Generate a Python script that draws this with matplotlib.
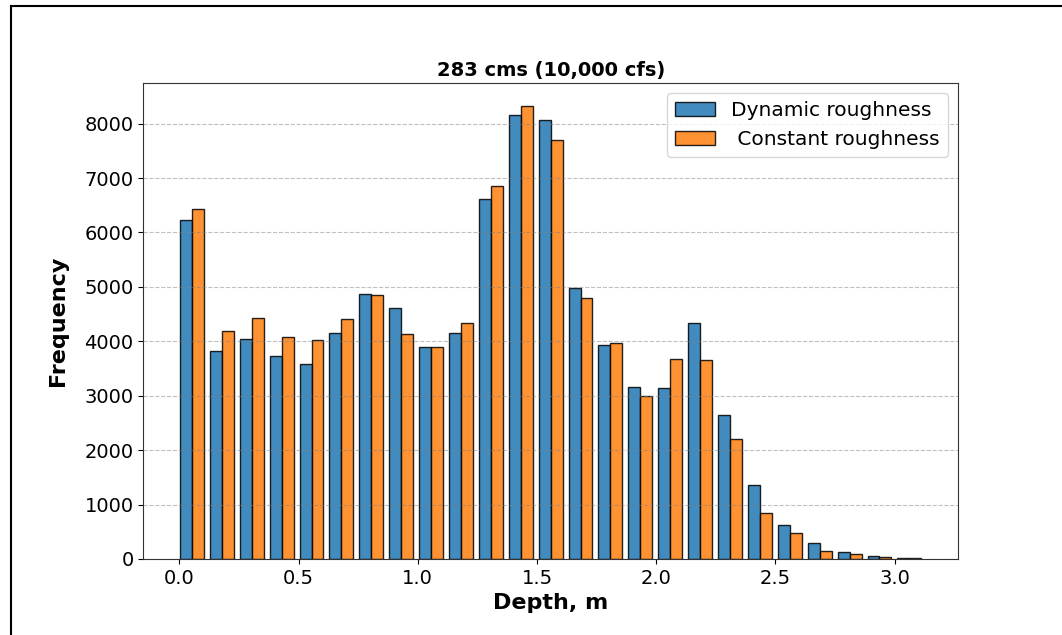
import matplotlib
matplotlib.use('Agg')
import matplotlib.pyplot as plt
from matplotlib.lines import Line2D
import numpy as np

# bin edges of the depth histogram (m)
depth_min = -0.01
depth_max = 3.125
n_bins = 25

# counts per bin
dynamic = [6220, 3830, 4050, 3730, 3580, 4150, 4875, 4612, 3890, 4147,
           6618, 8150, 8060, 4978, 3939, 3156, 3138, 4336, 2642, 1365,
           618, 288, 134, 55, 24]
constant = [6422, 4189, 4435, 4073, 4018, 4410, 4850, 4128, 3902, 4343,
            6857, 8330, 7706, 4802, 3969, 2991, 3670, 3651, 2196, 840,
            477, 153, 92, 37, 10]

labels = ['Dynamic roughness', ' Constant roughness']
title = '283 cms (10,000 cfs)'

edges = np.linspace(depth_min, depth_max, n_bins + 1)
centers = (edges[:-1] + edges[1:]) / 2

fig = plt.figure(figsize=(10.62, 6.35), dpi=100)
ax = fig.add_axes([0.135, 0.1197, 0.767, 0.7496])

ax.hist([centers, centers], bins=edges, weights=[dynamic, constant],
        color=['#1f77b4', '#ff7f0e'], alpha=0.85, edgecolor='black',
        linewidth=1.0, label=labels)

ax.set_xlim(-0.151, 3.266)
ax.grid(axis='y', linestyle='--', color='gray', alpha=0.5)
ax.tick_params(labelsize=14)
for s in ax.spines.values():
    s.set_color('#333333')
ax.set_xlabel('Depth, m', fontsize=16, fontweight='bold', labelpad=4)
ax.set_ylabel('Frequency', fontsize=16, fontweight='bold', labelpad=12)
ax.set_title(title, fontsize=14, fontweight='bold', pad=5)
ax.legend(loc='upper right', fontsize=14.5)

# outer frame (left and top edges visible in the original)
x0 = 11 / 1062
y1 = 1 - 6 / 635
fig.add_artist(Line2D([x0, x0], [0, y1], color='black', lw=1.5, transform=fig.transFigure))
fig.add_artist(Line2D([x0, 1], [y1, y1], color='black', lw=1.5, transform=fig.transFigure))

plt.savefig('out.png', dpi=100)
